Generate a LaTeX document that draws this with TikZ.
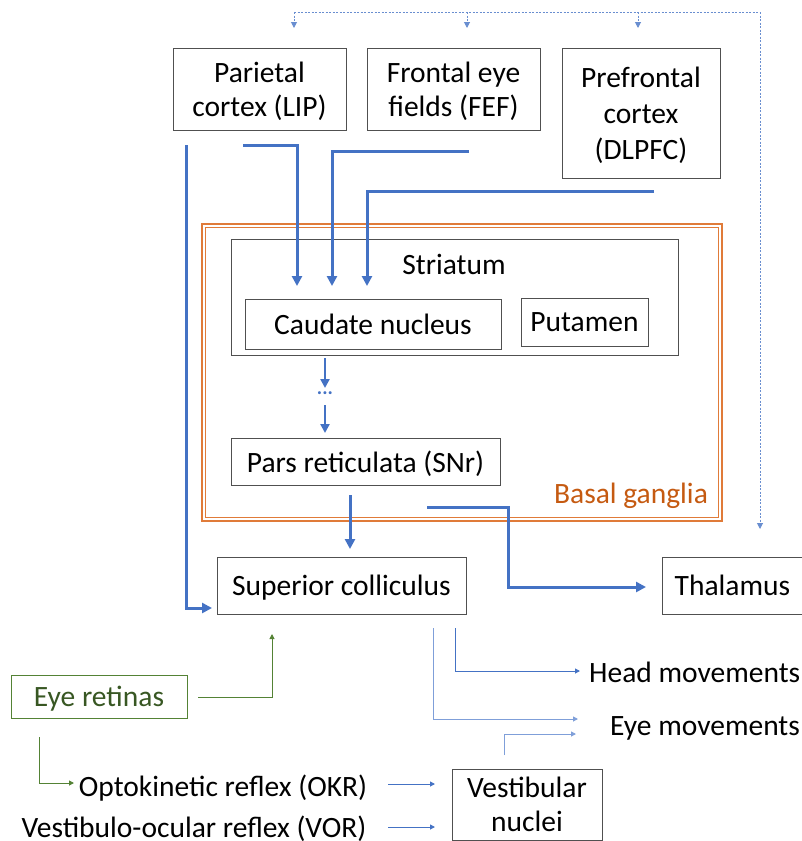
\documentclass[tikz,border=0pt]{standalone}
\usepackage{fontspec}
\setmainfont{Carlito}
\usetikzlibrary{arrows.meta}
\definecolor{bl}{HTML}{4472C4}
\definecolor{lbl}{HTML}{7F9FD9}
\definecolor{org}{HTML}{E07B39}
\definecolor{orgt}{HTML}{C55A11}
\definecolor{grn}{HTML}{548235}
\definecolor{grnt}{HTML}{385723}
\definecolor{bx}{HTML}{505050}
\begin{document}
\begin{tikzpicture}[x=1pt,y=-1pt,
  font=\fontsize{29.5}{34}\selectfont,
  box/.style={draw=bx,line width=0.9pt,inner sep=0pt,align=center,text depth=0pt},
  lbltext/.style={inner sep=0pt,text depth=0pt},
  thick arr/.style={draw=bl,line width=3pt,-{Triangle[length=10pt,width=10pt]}},
  thin arr/.style={draw=bl,line width=1pt,-{Triangle[length=5pt,width=5pt]}},
  light arr/.style={draw=lbl,line width=1pt,-{Triangle[length=5pt,width=5pt]}},
  green arr/.style={draw=grn,line width=1pt,-{Triangle[length=5pt,width=5pt]}},
  dot arr/.style={draw=bl!80,line width=1pt,dash pattern=on 2pt off 1.5pt,-{Triangle[length=6pt,width=6pt]}},
  dot line/.style={draw=bl!80,line width=1pt,dash pattern=on 2pt off 1.5pt},
]
\useasboundingbox (0,0) rectangle (801,841);
% boxes
\node[box,minimum width=173pt,minimum height=82pt] (lip) at (259.5,89) {Parietal\\cortex (LIP)};
\node[box,minimum width=173pt,minimum height=82pt] (fef) at (453.5,89) {Frontal eye\\fields (FEF)};
\node[box,minimum width=158pt,minimum height=130pt,font=\fontsize{29.5}{36}\selectfont] (dlpfc) at (641,113) {Prefrontal\\cortex\\(DLPFC)};
% basal ganglia
\draw[org,line width=1.3pt] (202,224) rectangle (722,521);
\draw[org,line width=1.1pt] (205.5,227.5) rectangle (718.5,517.5);
\node[lbltext,text=orgt] (bglabel) at (631,493) {Basal ganglia};
\node[box,minimum width=447pt,minimum height=116pt] (stri) at (454.5,297) {};
\node[lbltext] (strilabel) at (454,264) {Striatum};
\node[box,minimum width=256pt,minimum height=50pt] (caud) at (373,324) {Caudate nucleus};
\node[box,minimum width=127pt,minimum height=48pt] (put) at (584.5,322) {Putamen};
\node[box,minimum width=269pt,minimum height=47pt] (snr) at (365.5,461.5) {Pars reticulata (SNr)};
\node[box,minimum width=249pt,minimum height=57pt] (sc) at (341.5,585.5) {Superior colliculus};
\node[box,minimum width=260pt,minimum height=57pt,anchor=west] (thal) at (662,585.5) {\hspace*{-120pt}Thalamus};
\node[draw=grn,line width=0.9pt,inner sep=0pt,text depth=0pt,minimum width=176pt,minimum height=43pt,text=grnt] (ret) at (99,696.5) {Eye retinas};
\node[box,minimum width=150pt,minimum height=71pt] (vest) at (527,804.5) {Vestibular\\nuclei};
\node[lbltext,anchor=west] (head) at (589,672) {Head movements};
\node[lbltext,anchor=west] (eye) at (610,726) {Eye movements};
\node[lbltext] (okr) at (223,786) {Optokinetic reflex (OKR)};
\node[lbltext] (vor) at (194,827) {Vestibulo-ocular reflex (VOR)};
% dots
\node[text=bl,font=\fontsize{20}{20}\selectfont\bfseries,inner sep=0pt] (dots) at (325,393) {...};
% coordinates
\coordinate (a1) at (186,145);
\coordinate (a1e) at (212,608);
\coordinate (a2) at (243,145);
\coordinate (a2e) at (297,286);
\coordinate (a3) at (469,151);
\coordinate (a3e) at (332,286);
\coordinate (a4) at (654,191);
\coordinate (a4e) at (367,286);
\coordinate (d1) at (325,358);
\coordinate (d1e) at (325,388);
\coordinate (d2) at (325,405);
\coordinate (d2e) at (325,433);
\coordinate (s1) at (350,495);
\coordinate (s1e) at (350,549);
\coordinate (t1) at (427,507);
\coordinate (t2) at (508,507);
\coordinate (t1e) at (646,587);
\coordinate (h1) at (455,628);
\coordinate (h1e) at (580,671);
\coordinate (e1) at (433,628);
\coordinate (e1e) at (578,719);
\coordinate (v1) at (504,755);
\coordinate (v1e) at (576,734);
\coordinate (g1) at (198,697);
\coordinate (g1e) at (272,634);
\coordinate (g2) at (39,737);
\coordinate (g2e) at (74,783);
\coordinate (o1) at (388,784);
\coordinate (o1e) at (435,784);
\coordinate (r1) at (388,827);
\coordinate (r1e) at (435,827);
\coordinate (q0) at (760,12);
\coordinate (q1) at (294,12);
\coordinate (q1e) at (294,28);
\coordinate (q2) at (467,12);
\coordinate (q2e) at (467,28);
\coordinate (q3) at (638,12);
\coordinate (q3e) at (638,28);
\coordinate (qe) at (760,529);
% thick connectors
\draw[thick arr] (a1) |- (a1e);
\draw[thick arr] (a2) -| (a2e);
\draw[thick arr] (a3) -| (a3e);
\draw[thick arr] (a4) -| (a4e);
\draw[thick arr,line width=2.5pt,-{Triangle[length=9pt,width=9pt]}] (d1) -- (d1e);
\draw[thick arr,line width=2.5pt,-{Triangle[length=9pt,width=9pt]}] (d2) -- (d2e);
\draw[thick arr] (s1) -- (s1e);
\draw[thick arr] (t1) -- (t2) |- (t1e);
% dotted loop
\draw[dot line] (q1) -- (q0);
\draw[dot arr] (q0) -- (qe);
\draw[dot arr] (q1) -- (q1e);
\draw[dot arr] (q2) -- (q2e);
\draw[dot arr] (q3) -- (q3e);
% thin connectors
\draw[thin arr] (h1) |- (h1e);
\draw[light arr] (e1) |- (e1e);
\draw[light arr] (v1) |- (v1e);
\draw[green arr] (g1) -| (g1e);
\draw[green arr] (g2) |- (g2e);
\draw[thin arr] (o1) -- (o1e);
\draw[thin arr] (r1) -- (r1e);
\end{tikzpicture}
\end{document}
